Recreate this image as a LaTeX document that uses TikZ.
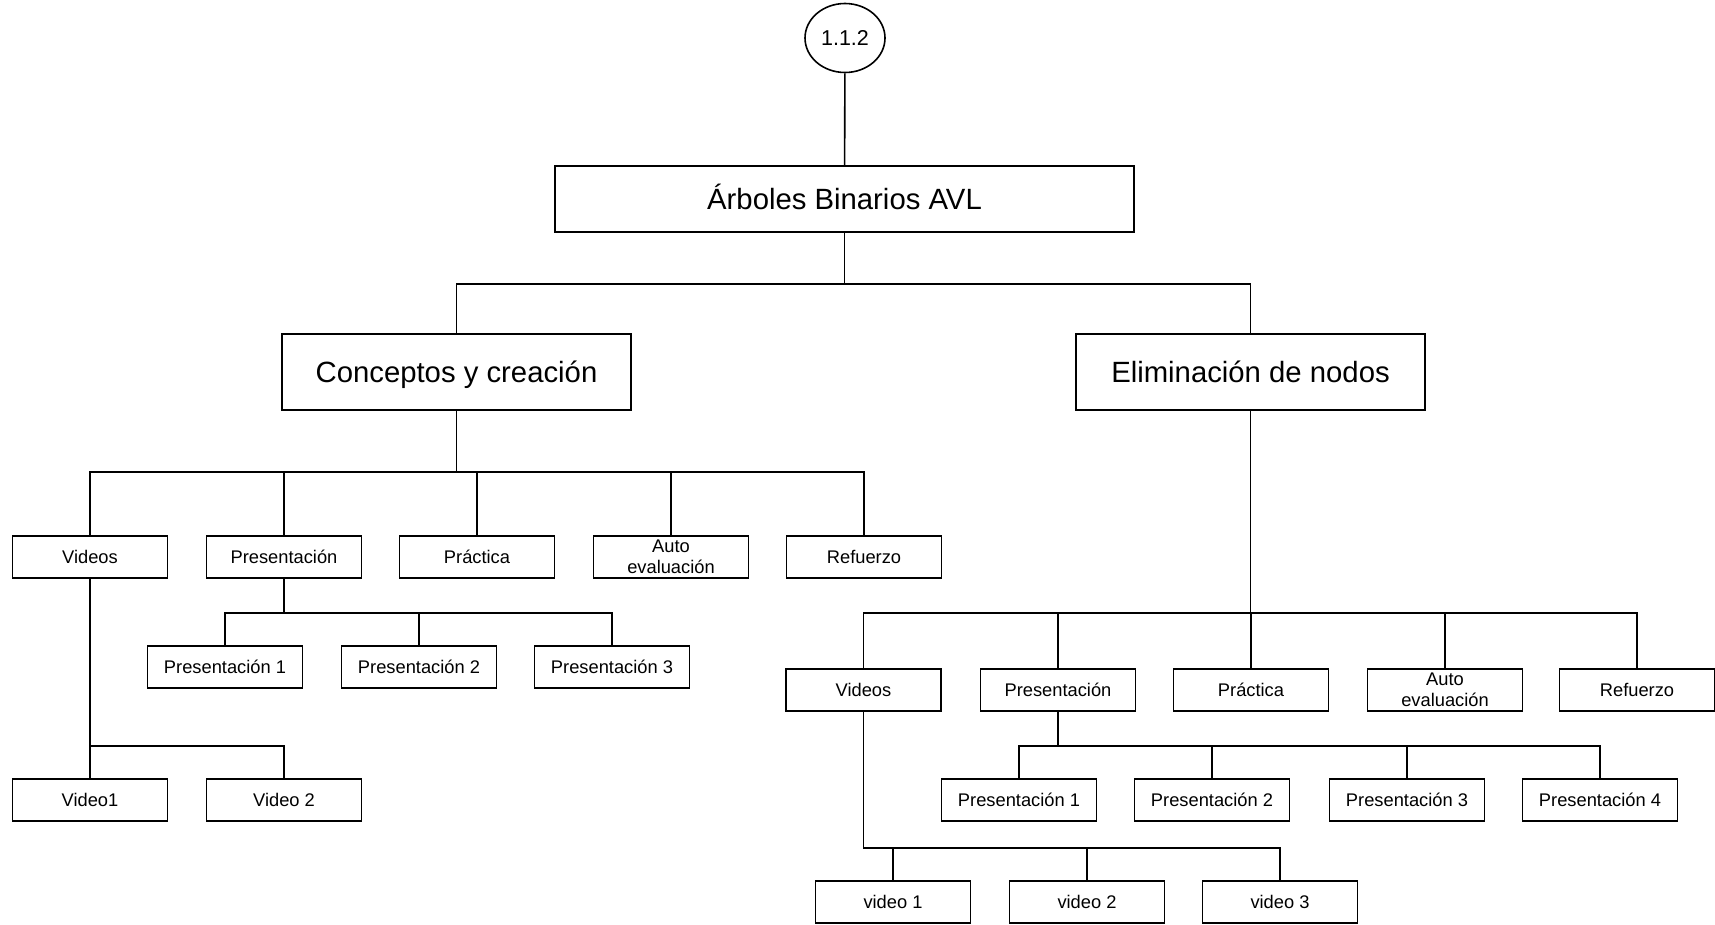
\documentclass[tikz,border=0pt]{standalone}
\usepackage{fontspec}
\setmainfont{Liberation Sans}
\usetikzlibrary{shapes.geometric}

\begin{document}
\begin{tikzpicture}[x=1pt,y=-1pt,line width=1.6pt,
	hoja/.style={draw,rectangle,inner sep=0pt,minimum width=155pt,minimum height=42pt,align=center,font=\fontsize{18.3}{20.5}\selectfont},
	tema/.style={draw,rectangle,inner sep=0pt,minimum width=349pt,minimum height=76pt,text height=24pt,text depth=3pt,font=\fontsize{29.3}{32}\selectfont},
	raiz/.style={draw,rectangle,inner sep=0pt,minimum width=579pt,minimum height=66pt,text height=24pt,text depth=3pt,font=\fontsize{29.3}{32}\selectfont},
	ref/.style={draw,ellipse,inner sep=0pt,minimum width=80pt,minimum height=69pt,font=\fontsize{21.5}{24}\selectfont}]

	\useasboundingbox (0,0) rectangle (1715,924);

	% alturas de los buses
	\coordinate (b0) at (0,284);
	\coordinate (b1) at (0,472);
	\coordinate (b2) at (0,613);
	\coordinate (b3) at (0,746);
	\coordinate (b4) at (0,848);

	\node[ref] (num) at (845,38) {1.1.2};
	\node[raiz] (avl) at (844.5,199) {Árboles Binarios AVL};
	\node[tema] (con) at (456.5,372) {Conceptos y creación};
	\node[tema] (eli) at (1250.5,372) {Eliminación de nodos};

	% rama izquierda
	\node[hoja] (cv) at (90,557) {Videos};
	\node[hoja] (cp) at (284,557) {Presentación};
	\node[hoja] (cr) at (477,557) {Práctica};
	\node[hoja] (ca) at (671,557) {Auto\\evaluación};
	\node[hoja] (cf) at (864,557) {Refuerzo};

	\node[hoja] (cp1) at (225,667) {Presentación 1};
	\node[hoja] (cp2) at (419,667) {Presentación 2};
	\node[hoja] (cp3) at (612,667) {Presentación 3};

	\node[hoja] (cv1) at (90,800) {Video1};
	\node[hoja] (cv2) at (284,800) {Video 2};

	% rama derecha
	\node[hoja] (ev) at (863.5,690) {Videos};
	\node[hoja] (ep) at (1058,690) {Presentación};
	\node[hoja] (er) at (1251,690) {Práctica};
	\node[hoja] (ea) at (1445,690) {Auto\\evaluación};
	\node[hoja] (ef) at (1637,690) {Refuerzo};

	\node[hoja] (ep1) at (1019,800) {Presentación 1};
	\node[hoja] (ep2) at (1212,800) {Presentación 2};
	\node[hoja] (ep3) at (1407,800) {Presentación 3};
	\node[hoja] (ep4) at (1600,800) {Presentación 4};

	\node[hoja] (ev1) at (893,902) {video 1};
	\node[hoja] (ev2) at (1087,902) {video 2};
	\node[hoja] (ev3) at (1280,902) {video 3};

	% conexiones
	\draw (num) -- (avl);
	\draw (avl.south) -- (avl.south |- b0) -| (con.north);
	\draw (avl.south) -- (avl.south |- b0) -| (eli.north);

	\foreach \h in {cv,cp,cr,ca,cf}
		\draw (con.south) -- (con.south |- b1) -| (\h.north);
	\foreach \h in {cp1,cp2,cp3}
		\draw (cp.south) -- (cp.south |- b2) -| (\h.north);
	\foreach \h in {cv1,cv2}
		\draw (cv.south) -- (cv.south |- b3) -| (\h.north);

	\foreach \h in {ev,ep,er,ea,ef}
		\draw (eli.south) -- (eli.south |- b2) -| (\h.north);
	\foreach \h in {ep1,ep2,ep3,ep4}
		\draw (ep.south) -- (ep.south |- b3) -| (\h.north);
	\foreach \h in {ev1,ev2,ev3}
		\draw (ev.south) -- (ev.south |- b4) -| (\h.north);
\end{tikzpicture}
\end{document}
